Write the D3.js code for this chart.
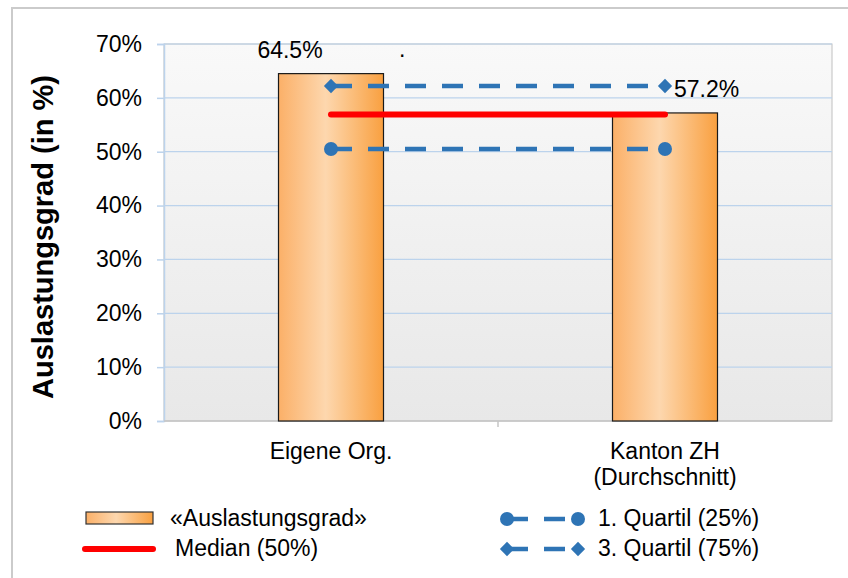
<!DOCTYPE html>
<html>
<head>
	<meta charset="utf-8">
	<title>Auslastungsgrad</title>
	<script src="https://d3js.org/d3.v7.min.js"></script>
	<style>
		body { margin: 0; background: #fff; }
		text { font-family: "Liberation Sans", Arial, sans-serif; fill: #000; }
	</style>
</head>
<body>
	<div id="chart"></div>
	<script>
		// data
		var categories = ["Eigene Org.", "Kanton ZH\n(Durchschnitt)"];
		var values = [64.5, 57.2];
		var quartil1 = [50.5, 50.5];
		var median = [56.9, 56.9];
		var quartil3 = [62.2, 62.2];
		var yTicks = [0, 10, 20, 30, 40, 50, 60, 70];

		var W = 848, H = 578;
		var plot = { left: 164, right: 832, top: 44, bottom: 421 };
		var fs = "23px";

		var svg = d3.select("#chart").append("svg")
			.attr("width", W)
			.attr("height", H);

		var defs = svg.append("defs");
		var grad = defs.append("linearGradient").attr("id", "barGrad")
			.attr("x1", "0%").attr("x2", "100%").attr("y1", "0%").attr("y2", "0%");
		grad.append("stop").attr("offset", "0%").attr("stop-color", "#fbb068");
		grad.append("stop").attr("offset", "45%").attr("stop-color", "#fdd7ae");
		grad.append("stop").attr("offset", "100%").attr("stop-color", "#f9a040");

		var bg = defs.append("linearGradient").attr("id", "bgGrad")
			.attr("x1", "0%").attr("x2", "0%").attr("y1", "0%").attr("y2", "100%");
		bg.append("stop").attr("offset", "0%").attr("stop-color", "#f9f9f9");
		bg.append("stop").attr("offset", "100%").attr("stop-color", "#e8e8e8");

		// outer frame
		svg.append("rect")
			.attr("x", 12).attr("y", 8)
			.attr("width", W).attr("height", H)
			.attr("fill", "none")
			.attr("stroke", "#cbcbcb")
			.attr("stroke-width", 2);

		var x = d3.scaleBand()
			.domain(categories)
			.range([plot.left, plot.right])
			.padding(0);

		var y = d3.scaleLinear()
			.domain([0, 70])
			.range([plot.bottom, plot.top]);

		var cx = function (i) { return x(categories[i]) + x.bandwidth() / 2; };

		// plot area
		svg.append("rect")
			.attr("x", plot.left).attr("y", plot.top)
			.attr("width", plot.right - plot.left)
			.attr("height", plot.bottom - plot.top)
			.attr("fill", "url(#bgGrad)")
			.attr("stroke", "#c0c0c0")
			.attr("stroke-width", 1);

		// gridlines
		svg.append("g").selectAll("line")
			.data(yTicks.filter(function (d) { return d > 0; }))
			.enter().append("line")
			.attr("x1", plot.left).attr("x2", plot.right)
			.attr("y1", function (d) { return y(d); })
			.attr("y2", function (d) { return y(d); })
			.attr("stroke", "#bcd3ec")
			.attr("stroke-width", 1.2);

		// y axis
		var yAxis = d3.axisLeft(y)
			.tickValues(yTicks)
			.tickSize(7)
			.tickPadding(15)
			.tickFormat(function (d) { return d + "%"; });

		var gy = svg.append("g")
			.attr("transform", "translate(" + plot.left + ",0)")
			.call(yAxis);
		gy.select(".domain").attr("stroke", "#bcd3ec").attr("stroke-width", 1.5);
		gy.selectAll(".tick line").attr("stroke", "#bcd3ec").attr("stroke-width", 1.5);
		gy.selectAll(".tick text")
			.attr("font-size", fs)
			.attr("font-family", "Liberation Sans, Arial, sans-serif")
			.attr("fill", "#000");

		// x axis
		svg.append("line")
			.attr("x1", plot.left).attr("x2", plot.right)
			.attr("y1", plot.bottom).attr("y2", plot.bottom)
			.attr("stroke", "#c6c6c6").attr("stroke-width", 1.5);
		svg.append("g").selectAll("line")
			.data(categories.slice(1))
			.enter().append("line")
			.attr("x1", function (d) { return x(d); })
			.attr("x2", function (d) { return x(d); })
			.attr("y1", plot.bottom).attr("y2", plot.bottom + 6)
			.attr("stroke", "#c6c6c6").attr("stroke-width", 1.5);

		var xl = svg.append("g").selectAll("text")
			.data(categories)
			.enter().append("text")
			.attr("text-anchor", "middle")
			.attr("font-size", fs)
			.attr("transform", function (d) {
				return "translate(" + (x(d) + x.bandwidth() / 2) + ",459)";
			});
		xl.each(function (d) {
			var t = d3.select(this);
			d.split("\n").forEach(function (line, i) {
				t.append("tspan").attr("x", 0).attr("dy", i === 0 ? 0 : 26).text(line);
			});
		});

		// y axis title
		svg.append("text")
			.attr("transform", "translate(53,237) rotate(-90)")
			.attr("text-anchor", "middle")
			.attr("font-size", "29px")
			.attr("font-weight", "bold")
			.text("Auslastungsgrad (in %)");

		// bars
		var barW = 105;
		svg.append("g").selectAll("rect")
			.data(values)
			.enter().append("rect")
			.attr("x", function (d, i) { return cx(i) - barW / 2; })
			.attr("y", function (d) { return y(d); })
			.attr("width", barW)
			.attr("height", function (d) { return y(0) - y(d); })
			.attr("fill", "url(#barGrad)")
			.attr("stroke", "#1a1a1a")
			.attr("stroke-width", 1.2);

		// quartile / median lines
		var line = d3.line()
			.x(function (d, i) { return cx(i); })
			.y(function (d) { return y(d); });

		var blue = "#2e74b5";

		svg.append("path")
			.datum(quartil3)
			.attr("d", line)
			.attr("fill", "none")
			.attr("stroke", blue)
			.attr("stroke-width", 4.5)
			.attr("stroke-dasharray", "21,16");

		svg.append("path")
			.datum(quartil1)
			.attr("d", line)
			.attr("fill", "none")
			.attr("stroke", blue)
			.attr("stroke-width", 4.5)
			.attr("stroke-dasharray", "21,16");

		svg.append("path")
			.datum(median)
			.attr("d", line)
			.attr("fill", "none")
			.attr("stroke", "#ff0000")
			.attr("stroke-width", 6)
			.attr("stroke-linecap", "round");

		svg.append("g").selectAll("circle")
			.data(quartil1)
			.enter().append("circle")
			.attr("cx", function (d, i) { return cx(i); })
			.attr("cy", function (d) { return y(d); })
			.attr("r", 7)
			.attr("fill", blue);

		var diamond = d3.symbol().type(d3.symbolDiamond2).size(130);
		svg.append("g").selectAll("path")
			.data(quartil3)
			.enter().append("path")
			.attr("d", diamond)
			.attr("transform", function (d, i) { return "translate(" + cx(i) + "," + y(d) + ")"; })
			.attr("fill", blue);

		// value labels
		svg.append("text")
			.attr("x", cx(0) - 41)
			.attr("y", y(values[0]) - 16)
			.attr("text-anchor", "middle")
			.attr("font-size", fs)
			.text(values[0].toFixed(1) + "%");

		svg.append("text")
			.attr("x", cx(1) + 9)
			.attr("y", y(quartil3[1]) + 11)
			.attr("font-size", fs)
			.text(values[1].toFixed(1) + "%");

		svg.append("text")
			.attr("x", 399)
			.attr("y", 57)
			.attr("font-size", fs)
			.text(".");

		// legend
		var lg = svg.append("g");
		lg.append("rect")
			.attr("x", 86).attr("y", 512)
			.attr("width", 67).attr("height", 12)
			.attr("fill", "url(#barGrad)")
			.attr("stroke", "#333").attr("stroke-width", 1.2);
		lg.append("text").attr("x", 170).attr("y", 526).attr("font-size", fs).text("«Auslastungsgrad»");

		lg.append("line")
			.attr("x1", 85).attr("x2", 153)
			.attr("y1", 549).attr("y2", 549)
			.attr("stroke", "#ff0000").attr("stroke-width", 6).attr("stroke-linecap", "round");
		lg.append("text").attr("x", 175).attr("y", 556).attr("font-size", fs).text("Median (50%)");

		lg.append("line")
			.attr("x1", 507).attr("x2", 578)
			.attr("y1", 519).attr("y2", 519)
			.attr("stroke", blue).attr("stroke-width", 4.5).attr("stroke-dasharray", "21,16");
		lg.append("circle").attr("cx", 507).attr("cy", 519).attr("r", 7).attr("fill", blue);
		lg.append("circle").attr("cx", 578).attr("cy", 519).attr("r", 7).attr("fill", blue);
		lg.append("text").attr("x", 598).attr("y", 526).attr("font-size", fs).text("1. Quartil (25%)");

		lg.append("line")
			.attr("x1", 507).attr("x2", 578)
			.attr("y1", 549).attr("y2", 549)
			.attr("stroke", blue).attr("stroke-width", 4.5).attr("stroke-dasharray", "21,16");
		lg.append("path").attr("d", diamond).attr("transform", "translate(507,549)").attr("fill", blue);
		lg.append("path").attr("d", diamond).attr("transform", "translate(578,549)").attr("fill", blue);
		lg.append("text").attr("x", 598).attr("y", 556).attr("font-size", fs).text("3. Quartil (75%)");
	</script>
</body>
</html>
